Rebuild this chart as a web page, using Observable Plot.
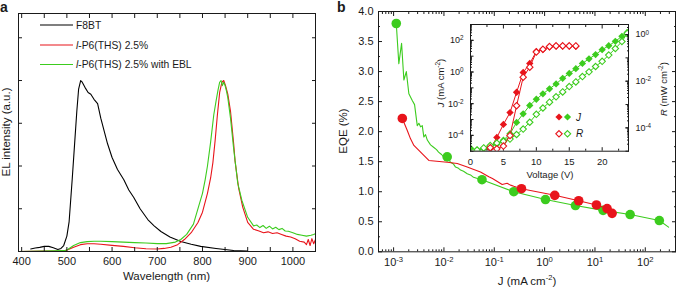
<!DOCTYPE html>
<html><head><meta charset="utf-8">
<script src="https://cdn.jsdelivr.net/npm/d3@7"></script>
<script src="https://cdn.jsdelivr.net/npm/@observablehq/plot@0.6"></script>
<style>
html,body{margin:0;padding:0;background:#fff;}
#wrap{position:relative;width:680px;height:288px;overflow:hidden;background:#fff;font-family:"Liberation Sans",Arial,Helvetica,sans-serif;}
</style></head><body><div id="wrap"></div>
<script>
// ---------------- Panel a : EL spectra ----------------
const f8btNm = [420,430,440,450,460,470,480,487,493,500,505,512,517,522,526,530.5,534,540,547,553,560,568,575,583,590,600,612,626,637,648,662,679,693,708,728,752,775,796,830,869,900];
const f8btI  = [0.015,0.02,0.024,0.03,0.03,0.022,0.012,0.018,0.035,0.09,0.175,0.43,0.625,0.82,0.95,1.0,0.99,0.96,0.93,0.92,0.89,0.865,0.78,0.7,0.63,0.55,0.48,0.42,0.36,0.316,0.25,0.187,0.15,0.117,0.085,0.058,0.042,0.03,0.018,0.006,0.002];
const p6Nm = [393,450,495,502,515,530,545,560,575,600,625,650,675,700,715,730,745,760,775,790,800,811,818,823,828,833,838,843,847,851,856,862,869,872,880,889,900,913,925,935,945,955,965,975,985,995,1005,1015,1025,1030,1034,1038,1042,1046,1050];
const p6I  = [0,0.002,0.004,0.01,0.025,0.04,0.045,0.045,0.042,0.036,0.03,0.022,0.016,0.015,0.018,0.025,0.04,0.07,0.11,0.17,0.23,0.34,0.43,0.52,0.65,0.8,0.93,0.99,1.0,0.97,0.92,0.82,0.63,0.53,0.37,0.26,0.17,0.13,0.12,0.11,0.115,0.105,0.11,0.1,0.09,0.085,0.075,0.06,0.055,0.04,0.07,0.035,0.075,0.045,0.07];
const eblNm = [393,450,495,502,515,530,545,560,575,600,625,650,675,700,720,740,752,765,780,791,800,806,811,818,825,830,834,838,841,844,847,850,853,856,862,869,878,887,900,913,920,927,934,941,948,955,962,969,976,983,990,1000,1010,1020,1030,1040,1046,1050];
const eblI  = [0,0.003,0.005,0.012,0.035,0.052,0.058,0.06,0.06,0.058,0.055,0.052,0.05,0.046,0.046,0.055,0.07,0.1,0.16,0.26,0.34,0.42,0.5,0.64,0.8,0.88,0.94,0.99,1.0,0.97,0.99,0.97,0.94,0.9,0.78,0.6,0.4,0.3,0.2,0.15,0.155,0.14,0.152,0.135,0.148,0.132,0.142,0.128,0.135,0.12,0.118,0.11,0.1,0.095,0.09,0.095,0.1,0.105];
const wlTicks = [400,500,600,700,800,900,1000];
const wlMinorTicks = [450,550,650,750,850,950];
const elTicks = [0.25,0.5,0.75,1.0,1.25];

// ---------------- Panel b : EQE vs J ----------------
const eblLineJ   = [0.00113,0.00127,0.00144,0.0016,0.00179,0.00201,0.00235,0.00261,0.00295,0.00318,0.00343,0.00371,0.00399,0.00431,0.00467,0.00542,0.00622,0.00713,0.00782,0.00896,0.00982,0.0116,0.0135,0.0155,0.017,0.0195,0.0214,0.0245,0.029,0.0337,0.0387,0.0464,0.057,0.244,1.04,4.1,14.5,50,190,290];
const eblLineEQE = [3.80,3.13,3.47,2.86,3.00,2.63,2.52,2.45,2.10,2.14,2.08,2.10,1.91,1.95,1.86,1.78,1.74,1.70,1.66,1.62,1.58,1.58,1.49,1.46,1.41,1.39,1.36,1.34,1.30,1.28,1.24,1.22,1.20,1.00,0.87,0.77,0.69,0.62,0.52,0.41];
const eblDotJ    = [0.00113,0.0116,0.057,0.244,1.04,4.1,14.5,50,190];
const eblDotEQE  = [3.80,1.58,1.20,1.00,0.87,0.77,0.69,0.62,0.52];
const p6LineJ    = [0.00149,0.00187,0.00217,0.00253,0.00501,0.0116,0.0184,0.029,0.0392,0.0532,0.0778,0.092,0.1435,0.18,0.21,0.244,0.347,1.59,4.75,10.7,17.4,21.9];
const p6LineEQE  = [2.22,2.02,1.88,1.77,1.52,1.49,1.47,1.41,1.37,1.33,1.25,1.22,1.12,1.14,1.11,1.09,1.05,0.94,0.85,0.78,0.72,0.64];
const p6DotJ     = [0.00149,0.347,1.59,4.75,10.7,17.4,21.9];
const p6DotEQE   = [2.22,1.05,0.94,0.85,0.78,0.72,0.64];
const jDecadeTicks = [1e-3,1e-2,1e-1,1,10,100];
const eqeTicks = [0,0.5,1.0,1.5,2.0,2.5,3.0,3.5,4.0];
const eqeMinorTicks = [0.25,0.75,1.25,1.75,2.25,2.75,3.25,3.75];

// ---------------- Inset : J and R vs voltage ----------------
const p6JV  = [3,4,5,6,7,8,9,10,11,12,13,14,15,16];
const p6J   = [1.41e-5,7.4e-5,4.9e-4,2.75e-3,0.0525,0.93,3.47,20,26,38,42,42,42,42];
const p6RV  = [3,4,5,6,7,8,9,10,11,12,13,14,15,16];
const p6R   = [1.41e-5,1.26e-5,1.66e-5,4.7e-5,8.9e-4,0.0148,0.04,0.178,0.234,0.305,0.327,0.327,0.327,0.324];
const eblJV = [0,1,2,3,4,5,6,7,8,9,10,11,12,13,14,15,16,17,18,19,20,21,22,23,23.8];
const eblJ  = [1.55e-5,1.2e-5,1.41e-5,1.9e-5,2.8e-5,5.0e-5,1.26e-4,6.6e-4,2.3e-3,7.8e-3,0.019,0.042,0.087,0.178,0.40,0.81,1.62,3.5,6.8,12.6,25.7,45.7,87,178,316];
const eblRV = [1,2,3,4,5,6,7,8,9,10,11,12,13,14,15,16,17,18,19,20,21,22,23,23.8];
const eblR  = [1.12e-5,1.38e-5,1.74e-5,2.24e-5,2.63e-5,3.3e-5,5.2e-5,8.9e-5,1.74e-4,3.8e-4,7.1e-4,1.26e-3,2.14e-3,3.47e-3,5.9e-3,9.3e-3,0.0158,0.0251,0.0427,0.0708,0.132,0.251,0.501,1.12];
const vTicks = [0,5,10,15,20];
const vMinorTicks = [2.5,7.5,12.5,17.5,22.5];
const jLabelTicks = [1e-4,1e-2,1,1e2];
const rLabelTicks = [1e-4,1e-2,1];

// ---------------- helpers ----------------
const RED = "#e8141b", GREEN = "#3ccc1e", INK = "#1a1a1a";
const FONT = "'Liberation Sans', Arial, Helvetica, sans-serif";
const wrap = document.getElementById("wrap");
const style = {fontFamily: FONT, fontSize: "11px", background: "transparent", overflow: "visible", color: INK};
const blank = () => "";
const plain = d3.format("d");
const pow = d => "10^" + Math.round(Math.log10(d));
const zip = (a, b, kx, ky) => a.map((v, i) => ({[kx]: v, [ky]: b[i]}));
function logMinor(lo, hi) {
  const out = [];
  for (let e = Math.floor(Math.log10(lo)) - 1; e <= Math.ceil(Math.log10(hi)); e++)
    for (let k = 2; k <= 9; k++) { const v = k * 10 ** e; if (v > lo && v < hi) out.push(v); }
  return out;
}
function logDecades(lo, hi) {
  const out = [];
  for (let e = Math.ceil(Math.log10(lo)); e <= Math.floor(Math.log10(hi)); e++) out.push(10 ** e);
  return out;
}
function place(el, left, top) {
  el.style.position = "absolute"; el.style.left = left + "px"; el.style.top = top + "px";
  wrap.appendChild(el);
}
function supify(svg) {
  svg.querySelectorAll("text").forEach(t => {
    const m = /^10\^(-?\d+)$/.exec(t.textContent);
    if (!m) return;
    while (t.firstChild) t.removeChild(t.firstChild);
    t.appendChild(document.createTextNode("10"));
    const ts = document.createElementNS("http://www.w3.org/2000/svg", "tspan");
    ts.setAttribute("dy", "-0.45em"); ts.setAttribute("font-size", "0.7em");
    ts.textContent = m[1];
    t.appendChild(ts);
  });
}

// ---------------- Panel a plot ----------------
const plotA = Plot.plot({
  width: 340, height: 288, marginLeft: 18, marginRight: 25, marginTop: 13, marginBottom: 37,
  style,
  x: {domain: [393, 1050], label: null},
  y: {domain: [0, 1.392], label: null},
  marks: [
    Plot.line(zip(f8btNm, f8btI, "nm", "v"), {x: "nm", y: "v", stroke: "#000", strokeWidth: 1.1, clip: true}),
    Plot.line(zip(p6Nm, p6I, "nm", "v"), {x: "nm", y: "v", stroke: RED, strokeWidth: 1.1, clip: true}),
    Plot.line(zip(eblNm, eblI, "nm", "v"), {x: "nm", y: "v", stroke: GREEN, strokeWidth: 1.1, clip: true}),
    Plot.frame({stroke: INK}),
    Plot.axisX({anchor: "bottom", ticks: wlTicks, tickSize: -4, tickPadding: 9.5, tickFormat: plain, label: null, fontSize: 11}),
    Plot.axisX({anchor: "bottom", ticks: wlMinorTicks, tickSize: -4, tickFormat: blank, label: null}),
    Plot.axisX({anchor: "top", ticks: wlTicks.concat(wlMinorTicks), tickSize: -4, tickFormat: blank, label: null}),
    Plot.axisY({anchor: "left", ticks: elTicks, tickSize: -4, tickFormat: blank, label: null}),
    Plot.axisY({anchor: "right", ticks: elTicks, tickSize: -4, tickFormat: blank, label: null})
  ]
});
place(plotA, 0, 0);

// ---------------- Panel b plot ----------------
const jLo = 10 ** -3.3, jHi = 10 ** 2.6;
const plotB = Plot.plot({
  width: 340, height: 288, marginLeft: 38, marginRight: 5, marginTop: 11, marginBottom: 36.7,
  style,
  x: {type: "log", domain: [jLo, jHi], label: null},
  y: {domain: [0, 4], label: null},
  marks: [
    Plot.line(zip(eblLineJ, eblLineEQE, "j", "e"), {x: "j", y: "e", stroke: GREEN, strokeWidth: 1.1}),
    Plot.dot(zip(eblDotJ, eblDotEQE, "j", "e"), {x: "j", y: "e", r: 4.8, fill: GREEN}),
    Plot.line(zip(p6LineJ, p6LineEQE, "j", "e"), {x: "j", y: "e", stroke: RED, strokeWidth: 1.1}),
    Plot.dot(zip(p6DotJ, p6DotEQE, "j", "e"), {x: "j", y: "e", r: 4.8, fill: RED}),
    Plot.frame({stroke: INK}),
    Plot.axisX({anchor: "bottom", ticks: jDecadeTicks, tickSize: -4, tickPadding: 10, tickFormat: pow, label: null, fontSize: 11}),
    Plot.axisX({anchor: "bottom", ticks: logMinor(jLo, jHi), tickSize: -2, tickFormat: blank, label: null}),
    Plot.axisX({anchor: "top", ticks: jDecadeTicks, tickSize: -4, tickFormat: blank, label: null}),
    Plot.axisX({anchor: "top", ticks: logMinor(jLo, jHi), tickSize: -2, tickFormat: blank, label: null}),
    Plot.axisY({anchor: "left", ticks: eqeTicks, tickSize: -4, tickPadding: 9, tickFormat: d3.format(".1f"), label: null, fontSize: 11}),
    Plot.axisY({anchor: "left", ticks: eqeMinorTicks, tickSize: -2, tickFormat: blank, label: null}),
    Plot.axisY({anchor: "right", ticks: eqeTicks, tickSize: -4, tickFormat: blank, label: null}),
    Plot.axisY({anchor: "right", ticks: eqeMinorTicks, tickSize: -2, tickFormat: blank, label: null})
  ]
});
supify(plotB);
place(plotB, 340, 0);

// ---------------- Inset (J, left axis) ----------------
const insetDims = {width: 260, height: 190, marginLeft: 50, marginRight: 52, marginTop: 24, marginBottom: 39.3};
const jIn = [1e-5, 1e3];
const insetJ = Plot.plot({
  ...insetDims, style: {...style, fontSize: "9px"},
  x: {domain: [0, 24], label: null},
  y: {type: "log", domain: jIn, label: null},
  marks: [
    Plot.frame({fill: "#fff", stroke: "none"}),
    Plot.line(zip(eblJV, eblJ, "v", "j"), {x: "v", y: "j", stroke: GREEN, strokeWidth: 1, clip: true}),
    Plot.dot(zip(eblJV, eblJ, "v", "j"), {x: "v", y: "j", symbol: "diamond2", r: 3.3, fill: GREEN, clip: true}),
    Plot.line(zip(p6JV, p6J, "v", "j"), {x: "v", y: "j", stroke: RED, strokeWidth: 1, clip: true}),
    Plot.dot(zip(p6JV, p6J, "v", "j"), {x: "v", y: "j", symbol: "diamond2", r: 3.3, fill: RED, clip: true}),
    Plot.axisX({anchor: "bottom", ticks: vTicks, tickSize: -3.5, tickPadding: 10.5, tickFormat: plain, label: null, fontSize: 9.5}),
    Plot.axisX({anchor: "bottom", ticks: vMinorTicks, tickSize: -2, tickFormat: blank, label: null}),
    Plot.axisX({anchor: "top", ticks: vTicks, tickSize: -3.5, tickFormat: blank, label: null}),
    Plot.axisX({anchor: "top", ticks: vMinorTicks, tickSize: -2, tickFormat: blank, label: null}),
    Plot.axisY({anchor: "left", ticks: jLabelTicks, tickSize: -3.5, tickPadding: 10.5, tickFormat: pow, label: null, fontSize: 9}),
    Plot.axisY({anchor: "left", ticks: logDecades(jIn[0], jIn[1]), tickSize: -3.5, tickFormat: blank, label: null}),
    Plot.axisY({anchor: "left", ticks: logMinor(jIn[0], jIn[1]), tickSize: -2, tickFormat: blank, label: null})
  ]
});
supify(insetJ);
place(insetJ, 420, 0);

// ---------------- Inset (R, right axis) ----------------
const rIn = [1e-5, 10 ** 0.43];
const insetR = Plot.plot({
  ...insetDims, style: {...style, fontSize: "9px"},
  x: {domain: [0, 24], axis: null},
  y: {type: "log", domain: rIn, label: null},
  marks: [
    Plot.line(zip(eblRV, eblR, "v", "r"), {x: "v", y: "r", stroke: GREEN, strokeWidth: 1, clip: true}),
    Plot.dot(zip(eblRV, eblR, "v", "r"), {x: "v", y: "r", symbol: "diamond2", r: 2.9, fill: "#fff", stroke: GREEN, strokeWidth: 1.1, clip: true}),
    Plot.line(zip(p6RV, p6R, "v", "r"), {x: "v", y: "r", stroke: RED, strokeWidth: 1, clip: true}),
    Plot.dot(zip(p6RV, p6R, "v", "r"), {x: "v", y: "r", symbol: "diamond2", r: 2.9, fill: "#fff", stroke: RED, strokeWidth: 1.1, clip: true}),
    Plot.frame({stroke: INK}),
    Plot.axisY({anchor: "right", ticks: rLabelTicks, tickSize: -3.5, tickPadding: 10.5, tickFormat: pow, label: null, fontSize: 9}),
    Plot.axisY({anchor: "right", ticks: logDecades(rIn[0], rIn[1]), tickSize: -3.5, tickFormat: blank, label: null}),
    Plot.axisY({anchor: "right", ticks: logMinor(rIn[0], rIn[1]), tickSize: -2, tickFormat: blank, label: null})
  ]
});
supify(insetR);
place(insetR, 420, 0);

// ---------------- Annotation layer (titles, legends) ----------------
const NS = "http://www.w3.org/2000/svg";
const ann = document.createElementNS(NS, "svg");
ann.setAttribute("width", 680); ann.setAttribute("height", 288);
ann.style.pointerEvents = "none";
ann.style.fontFamily = FONT; ann.style.fill = INK;
ann.innerHTML = `
  <text x="0" y="12" font-size="14" font-weight="bold">a</text>
  <text x="337" y="12" font-size="14" font-weight="bold">b</text>
  <text transform="translate(9.5,132) rotate(-90)" text-anchor="middle" font-size="11.5">EL intensity (a.u.)</text>
  <text x="166.5" y="279.5" text-anchor="middle" font-size="11.5">Wavelength (nm)</text>
  <text transform="translate(347,131) rotate(-90)" text-anchor="middle" font-size="11.5">EQE (%)</text>
  <text x="527" y="284.5" text-anchor="middle" font-size="11.5">J (mA cm<tspan dy="-4.5" font-size="7.5">-2</tspan><tspan dy="4.5">)</tspan></text>
  <text transform="translate(444,83) rotate(-90)" text-anchor="middle" font-size="9.5"><tspan font-style="italic">J</tspan> (mA cm<tspan dy="-3.8" font-size="6.5">-2</tspan><tspan dy="3.8">)</tspan></text>
  <text transform="translate(667,89) rotate(-90)" text-anchor="middle" font-size="9.5"><tspan font-style="italic">R</tspan> (mW cm<tspan dy="-3.8" font-size="6.5">-2</tspan><tspan dy="3.8">)</tspan></text>
  <text x="550" y="177.5" text-anchor="middle" font-size="9.5">Voltage (V)</text>
  <line x1="40" x2="73" y1="25" y2="25" stroke="#000" stroke-width="1.1"/>
  <line x1="40" x2="73" y1="45" y2="45" stroke="${RED}" stroke-width="1.1"/>
  <line x1="40" x2="73" y1="64.5" y2="64.5" stroke="${GREEN}" stroke-width="1.1"/>
  <text x="76" y="29" font-size="10.3">F8BT</text>
  <text x="76" y="48.6" font-size="10.3"><tspan font-style="italic">l</tspan>-P6(THS) 2.5%</text>
  <text x="76" y="68.2" font-size="10.3"><tspan font-style="italic">l</tspan>-P6(THS) 2.5% with EBL</text>
  <path d="M559,113.4L562.6,117L559,120.6L555.4,117Z" fill="${RED}"/>
  <path d="M567.5,113.4L571.1,117L567.5,120.6L563.9,117Z" fill="${GREEN}"/>
  <text x="576" y="120.7" font-size="10" font-style="italic">J</text>
  <path d="M559,130.6L562.2,133.8L559,137L555.8,133.8Z" fill="#fff" stroke="${RED}" stroke-width="1.1"/>
  <path d="M567.5,130.6L570.7,133.8L567.5,137L564.3,133.8Z" fill="#fff" stroke="${GREEN}" stroke-width="1.1"/>
  <text x="576" y="137.4" font-size="10" font-style="italic">R</text>
`;
place(ann, 0, 0);
</script></body></html>
